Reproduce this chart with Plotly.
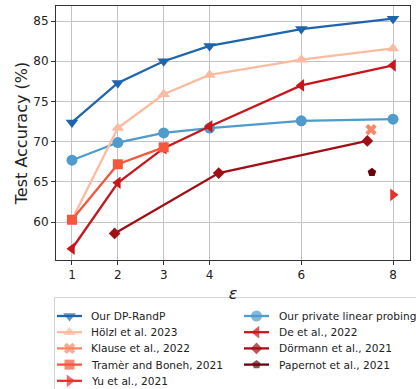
import plotly.graph_objects as go

# ---- data ----
eps = [1, 2, 3, 4, 6, 8]
dp_randp = [72.4, 77.3, 80.0, 81.9, 84.0, 85.3]
lin_probe = [67.7, 69.9, 71.1, 71.7, 72.6, 72.8]
holzl = [60.3, 71.7, 75.9, 78.3, 80.2, 81.6]
de_eps = [1, 2, 3, 4, 6, 8]
de = [56.7, 64.9, 69.2, 71.9, 77.0, 79.5]
tramer_eps = [1, 2, 3]
tramer = [60.3, 67.2, 69.3]
dormann_eps = [1.93, 4.2, 7.44]
dormann = [58.6, 66.1, 70.1]
klause_eps = [7.52]
klause = [71.5]
papernot_eps = [7.54]
papernot = [66.2]
yu_eps = [8.0]
yu = [63.4]

x_ticks = [1, 2, 3, 4, 6, 8]
y_ticks = [60, 65, 70, 75, 80, 85]

legend_order = [
    "Our DP-RandP", "Hölzl et al. 2023", "Klause et al., 2022",
    "Tramèr and Boneh, 2021", "Yu et al., 2021",
    "Our private linear probing", "De et al., 2022",
    "Dörmann et al., 2021", "Papernot et al., 2021",
]

FONT = "DejaVu Sans"
W, H = 416, 389

# (name, x, y, color, symbol, size) in drawing order
series = [
    ("Our DP-RandP", eps, dp_randp, "#1f65ab", "triangle-down", 11),
    ("Our private linear probing", eps, lin_probe, "#4f9bcb", "circle", 11),
    ("Hölzl et al. 2023", eps, holzl, "#fcbba1", "triangle-up", 11),
    ("De et al., 2022", de_eps, de, "#c7171c", "triangle-left", 11),
    ("Klause et al., 2022", klause_eps, klause, "#fc8565", "x", 10),
    ("Dörmann et al., 2021", dormann_eps, dormann, "#a00f15", "diamond", 9),
    ("Tramèr and Boneh, 2021", tramer_eps, tramer, "#f4563e", "square", 10),
    ("Papernot et al., 2021", papernot_eps, papernot, "#67000d", "pentagon", 9),
    ("Yu et al., 2021", yu_eps, yu, "#e5322b", "triangle-right", 11),
]

fig = go.Figure()
for name, xs, ys, col, sym, sz in series:
    fig.add_trace(go.Scatter(
        x=xs, y=ys, name=name, mode="lines+markers",
        line=dict(color=col, width=2.3),
        marker=dict(color=col, symbol=sym, size=sz, line=dict(width=0)),
        showlegend=False, xaxis="x", yaxis="y",
    ))

# ---- legend (drawn on a pixel-unit overlay axis below the plot) ----
style = {s[0]: s[3:] for s in series}
rows_per_col = 5
col_line_x = [57, 244]
line_len = 25
col_text_x = [89, 277]
row0_y, row_dy = 316, 16.2
annotations = []
for i, name in enumerate(legend_order):
    c, r = divmod(i, rows_per_col)
    col, sym, sz = style[name]
    yy = row0_y + r * row_dy
    x0 = col_line_x[c]
    fig.add_trace(go.Scatter(
        x=[x0, x0 + line_len / 2, x0 + line_len], y=[yy, yy, yy],
        mode="lines+markers", line=dict(color=col, width=2.3),
        marker=dict(color=col, symbol=sym, size=[0, sz, 0], line=dict(width=0)),
        showlegend=False, hoverinfo="skip", xaxis="x2", yaxis="y2",
    ))
    annotations.append(dict(
        x=col_text_x[c], y=yy, xref="x2", yref="y2", text=name,
        xanchor="left", yanchor="middle", showarrow=False,
        font=dict(family=FONT, size=10.6, color="#222222"),
    ))

axis_common = dict(
    showline=True, linecolor="#333333", linewidth=1, mirror=True,
    ticks="outside", ticklen=4, tickcolor="#333333", tickwidth=1,
    showgrid=True, gridcolor="#c4c4c4", gridwidth=1, zeroline=False,
    tickfont=dict(family=FONT, size=12, color="#222222"),
    automargin=False,
)

plot_l, plot_r, plot_t, plot_b = 56, 410, 6, 260
legend_top = 296

fig.update_layout(
    width=W, height=H,
    margin=dict(l=0, r=0, t=0, b=0, autoexpand=False),
    paper_bgcolor="white", plot_bgcolor="white",
    font=dict(family=FONT, color="#222222"),
    showlegend=False,
    xaxis=dict(domain=[plot_l / W, plot_r / W], anchor="y",
               range=[0.652, 8.37], tickvals=x_ticks, ticktext=[str(v) for v in x_ticks],
               title=dict(text="<i>ε</i>", font=dict(family=FONT, size=16), standoff=6),
               **axis_common),
    yaxis=dict(domain=[(H - plot_b) / H, (H - plot_t) / H], anchor="x",
               range=[55.3, 86.87], tickvals=y_ticks,
               title=dict(text="Test Accuracy (%)", font=dict(family=FONT, size=16), standoff=1),
               **axis_common),
    xaxis2=dict(domain=[0, 1], anchor="y2", range=[0, W], visible=False, fixedrange=True),
    yaxis2=dict(domain=[0, (H - legend_top) / H], anchor="x2", range=[H, legend_top],
                visible=False, fixedrange=True),
    shapes=[dict(type="rect", xref="x2", yref="y2", x0=54.5, x1=W + 20, y0=297.5, y1=H + 20,
                 line=dict(color="#d4d4d4", width=1), fillcolor="white", layer="below")],
    annotations=annotations,
)

fig.write_html("out.html", post_script="document.body.style.margin='0';",
               config={"displayModeBar": False})
